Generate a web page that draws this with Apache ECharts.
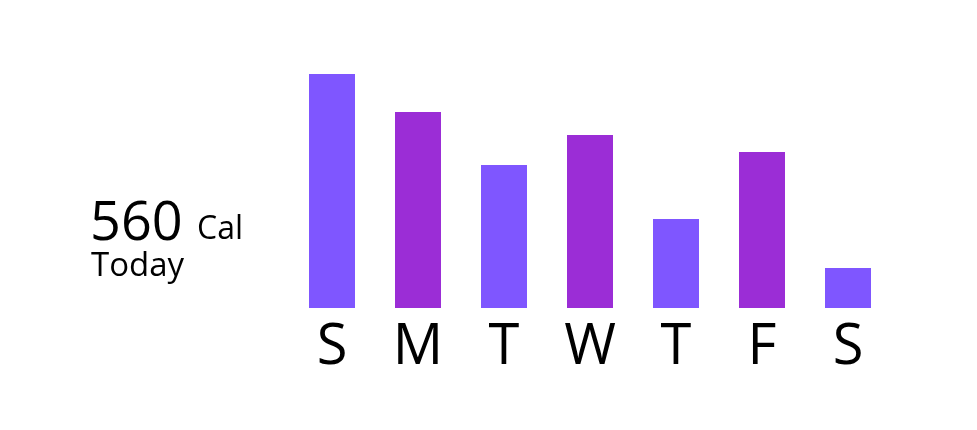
<!DOCTYPE html>
<html>
<head>
<meta charset="utf-8">
<script src="https://cdn.jsdelivr.net/npm/echarts@6/dist/echarts.min.js"></script>
<style>html,body{margin:0;padding:0;background:#fff}#c{width:977px;height:430px}</style>
</head>
<body>
<div id="c"></div>
<script>
const days = ['S','M','T','W','T','F','S'];
const calories = [234, 196, 143, 173, 89, 156, 40];
const todayValue = '560';
const todayUnit = 'Cal';
const todayLabel = 'Today';

const chart = echarts.init(document.getElementById('c'));
const FONT = '"Open Sans", Lato, sans-serif';
chart.setOption({
  animation: false,
  backgroundColor: '#ffffff',
  grid: { left: 289, right: 86, top: 58, bottom: 122 },
  xAxis: {
    type: 'category',
    data: days,
    axisLine: { show: false },
    axisTick: { show: false },
    axisLabel: { color: '#000', fontSize: 56, fontFamily: FONT, margin: 12 }
  },
  yAxis: {
    type: 'value', min: 0, max: 250,
    show: false, splitLine: { show: false }
  },
  series: [{
    type: 'bar',
    data: calories,
    barWidth: 46,
    itemStyle: {
      color: p => (p.dataIndex % 2 === 0 ? '#7F56FF' : '#9B2DD6')
    }
  }],
  graphic: [
    { type: 'text', left: 90, top: 198,
      style: { text: todayValue, font: '54px ' + FONT, fill: '#000' } },
    { type: 'text', left: 197, top: 214,
      style: { text: todayUnit, font: '32px ' + FONT, fill: '#000' } },
    { type: 'text', left: 91, top: 250,
      style: { text: todayLabel, font: '33px ' + FONT, fill: '#000' } }
  ]
});
</script>
</body>
</html>
